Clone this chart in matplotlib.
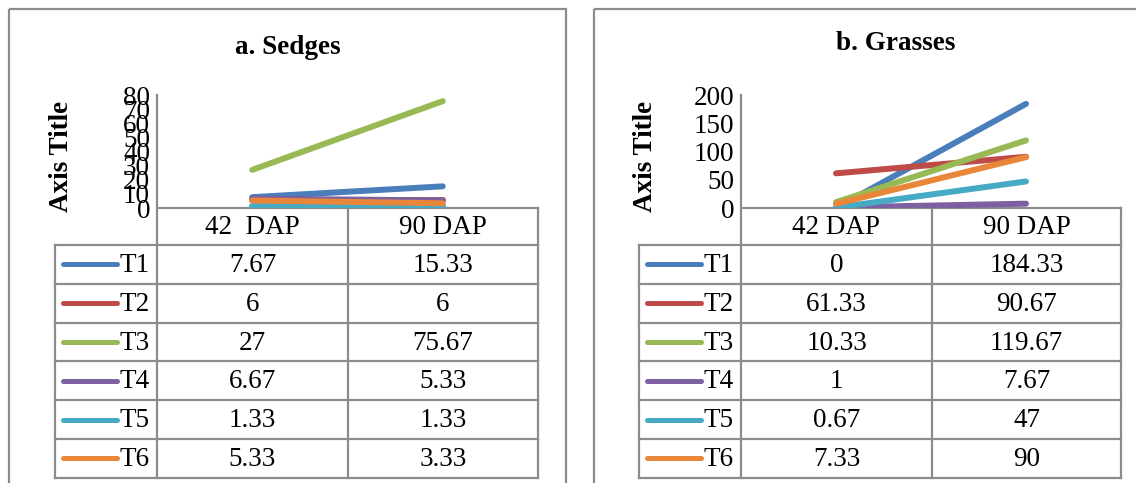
import matplotlib.pyplot as plt
from matplotlib.lines import Line2D
from matplotlib.patches import Rectangle

plt.rcParams['font.family'] = ['Liberation Serif', 'DejaVu Serif']

# Data: mean counts per treatment at two sampling dates
categories = ['42 DAP', '90 DAP']
treatments = ['T1', 'T2', 'T3', 'T4', 'T5', 'T6']
sedges = [
    [7.67, 15.33],
    [6, 6],
    [27, 75.67],
    [6.67, 5.33],
    [1.33, 1.33],
    [5.33, 3.33],
]
grasses = [
    [0, 184.33],
    [61.33, 90.67],
    [10.33, 119.67],
    [1, 7.67],
    [0.67, 47],
    [7.33, 90],
]
colors = ['#4A7EBB', '#BE4B48', '#98B954', '#7D60A0', '#46AAC5', '#E8873A']
grid_col = '#8C8C8C'

W, H = 1136, 483
fig = plt.figure(figsize=(W / 100, H / 100), dpi=100)
bg = fig.add_axes([0, 0, 1, 1])
bg.set_xlim(0, W)
bg.set_ylim(H, 0)
bg.axis('off')

FS = 19.5


def panel(frame, title, title_xy, legend_x0, axis_x, mid_x, right_x,
          data, yticks, ymax, head_labels, ytitle_x):
    # outer chart border
    bg.add_patch(Rectangle((frame[0], 9), frame[1] - frame[0], H + 20,
                           fill=False, ec=grid_col, lw=1.6))
    bg.text(title_xy[0], title_xy[1], title, ha='center', va='center',
            fontsize=FS, fontweight='bold')
    bg.text(ytitle_x, 156, 'Axis Title', rotation=90, ha='center',
            va='center', fontsize=FS, fontweight='bold')

    top, base = 95, 208
    ax = fig.add_axes([axis_x / W, 1 - base / H, (right_x - axis_x) / W,
                       (base - top) / H])
    ax.patch.set_alpha(0)
    for i, row in enumerate(data):
        ax.plot([0, 1], row, color=colors[i], lw=4.3,
                solid_capstyle='round', zorder=3)
    ax.set_xlim(-0.5, 1.5)
    ax.set_ylim(0, ymax)
    ax.set_yticks(yticks)
    ax.set_yticklabels([str(t) for t in yticks], fontsize=FS)
    ax.set_xticks([])
    ax.tick_params(axis='y', length=0, pad=5)
    for s in ['top', 'right', 'bottom', 'left']:
        ax.spines[s].set_visible(False)

    # data table below the plot
    rows_y = [245 + i * 38.8 for i in range(7)]
    line_kw = dict(color=grid_col, lw=1.6)
    bg.plot([axis_x, right_x], [base, base], **line_kw)
    bg.plot([axis_x, axis_x], [top, rows_y[-1]], **line_kw)
    bg.plot([mid_x, mid_x], [base, rows_y[-1]], **line_kw)
    bg.plot([right_x, right_x], [base, rows_y[-1]], **line_kw)
    bg.plot([legend_x0, legend_x0], [rows_y[0], rows_y[-1]], **line_kw)
    for y in rows_y:
        bg.plot([legend_x0, right_x], [y, y], **line_kw)

    bg.text((axis_x + mid_x) / 2, (base + rows_y[0]) / 2 + 1, head_labels[0],
            ha='center', va='center', fontsize=FS)
    bg.text((mid_x + right_x) / 2, (base + rows_y[0]) / 2 + 1, head_labels[1],
            ha='center', va='center', fontsize=FS)

    for i, name in enumerate(treatments):
        yc = (rows_y[i] + rows_y[i + 1]) / 2
        bg.add_line(Line2D([legend_x0 + 8, legend_x0 + 62], [yc, yc],
                           color=colors[i], lw=3.6, solid_capstyle='round'))
        bg.text(legend_x0 + 64, yc + 1, name, ha='left', va='center',
                fontsize=FS)
        for j, v in enumerate(data[i]):
            cx = (axis_x + mid_x) / 2 if j == 0 else (mid_x + right_x) / 2
            bg.text(cx, yc + 1, f'{v:g}', ha='center', va='center',
                    fontsize=FS)


panel((9, 566), 'a. Sedges', (288, 47), 55, 157, 348, 538, sedges,
      list(range(0, 81, 10)), 80, ['42  DAP', '90 DAP'], 62)
panel((594, 1160), 'b. Grasses', (896, 43), 639, 741, 932, 1121, grasses,
      list(range(0, 201, 50)), 200, categories, 646)

fig.savefig('out.png', dpi=100)
